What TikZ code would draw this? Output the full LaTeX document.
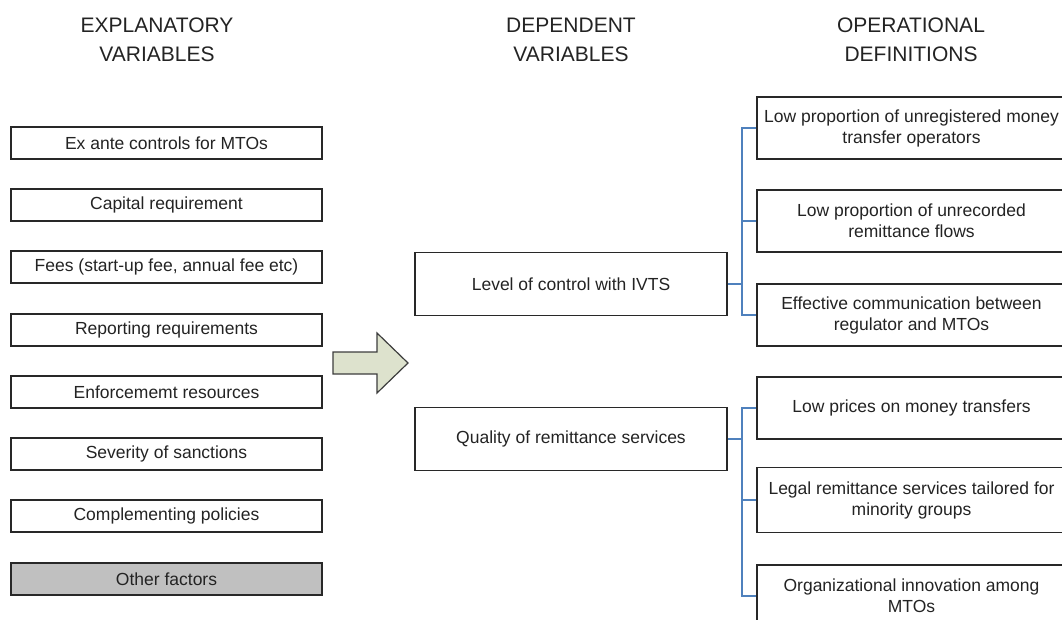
\documentclass[tikz,border=0pt]{standalone}
\usepackage{fontspec}
\setmainfont{Liberation Sans}
\definecolor{boxc}{RGB}{40,40,40}
\definecolor{txt}{RGB}{35,35,35}
\definecolor{conn}{RGB}{79,129,189}
\definecolor{arrfill}{RGB}{221,226,205}
\definecolor{grayfill}{RGB}{192,192,192}
\begin{document}
\begin{tikzpicture}[x=1pt,y=-1pt,
  box/.style={draw=boxc, line width=1.3pt, text=txt, font=\fontsize{17.5}{21}\selectfont, align=center, inner sep=0pt},
  lbox/.style={box, minimum width=311pt, minimum height=32pt},
  mbox/.style={box, minimum width=312pt, minimum height=63pt},
  rbox/.style={box, minimum width=309pt, minimum height=62pt},
  head/.style={text=txt, font=\fontsize{21}{29}\selectfont, align=center, inner sep=0pt},
  connline/.style={draw=conn, line width=1.3pt}]
\useasboundingbox (0,0) rectangle (1062,619);
% headers
\node[head] (h1) at (157,40) {EXPLANATORY\\VARIABLES};
\node[head] (h2) at (571,40) {DEPENDENT\\VARIABLES};
\node[head] (h3) at (911,40) {OPERATIONAL\\DEFINITIONS};
% left boxes
\node[lbox] (l1) at (166.5,143) {Ex ante controls for MTOs};
\node[lbox] (l2) at (166.5,205) {Capital requirement};
\node[lbox] (l3) at (166.5,267) {Fees (start-up fee, annual fee etc)};
\node[lbox] (l4) at (166.5,330) {Reporting requirements};
\node[lbox] (l5) at (166.5,392) {Enforcememt resources};
\node[lbox] (l6) at (166.5,454) {Severity of sanctions};
\node[lbox] (l7) at (166.5,516) {Complementing policies};
\node[lbox, fill=grayfill] (l8) at (166.5,579) {Other factors};
% block arrow
\draw[draw=boxc!90, fill=arrfill, line width=1.2pt]
  (333,352) -- (377,352) -- (377,333) -- (408,363) -- (377,393) -- (377,374) -- (333,374) -- cycle;
% middle boxes
\node[mbox] (lvl) at (571,284) {Level of control with IVTS};
\node[mbox] (qual) at (571,439) {Quality of remittance services};
% right boxes
\node[rbox] (r1) at (911.5,128) {Low proportion of unregistered money\\transfer operators};
\node[rbox] (r2) at (911.5,221) {Low proportion of unrecorded\\remittance flows};
\node[rbox] (r3) at (911.5,315) {Effective communication between\\regulator and MTOs};
\node[rbox] (r4) at (911.5,408) {Low prices on money transfers};
\node[rbox, minimum height=65pt] (r5) at (911.5,500) {Legal remittance services tailored for\\minority groups};
\node[rbox] (r6) at (911.5,596) {Organizational innovation among\\MTOs};
% connectors
\coordinate (j1) at (742,284);
\coordinate (j2) at (742,439);
\draw[connline] (lvl.east) -- (j1);
\draw[connline] (r1.west) -- (r1.west -| j1) -- (r3.west -| j1) -- (r3.west);
\draw[connline] (r2.west) -- (r2.west -| j1);
\draw[connline] (qual.east) -- (j2);
\draw[connline] (r4.west) -- (r4.west -| j2) -- (r6.west -| j2) -- (r6.west);
\draw[connline] (r5.west) -- (r5.west -| j2);
\end{tikzpicture}
\end{document}
